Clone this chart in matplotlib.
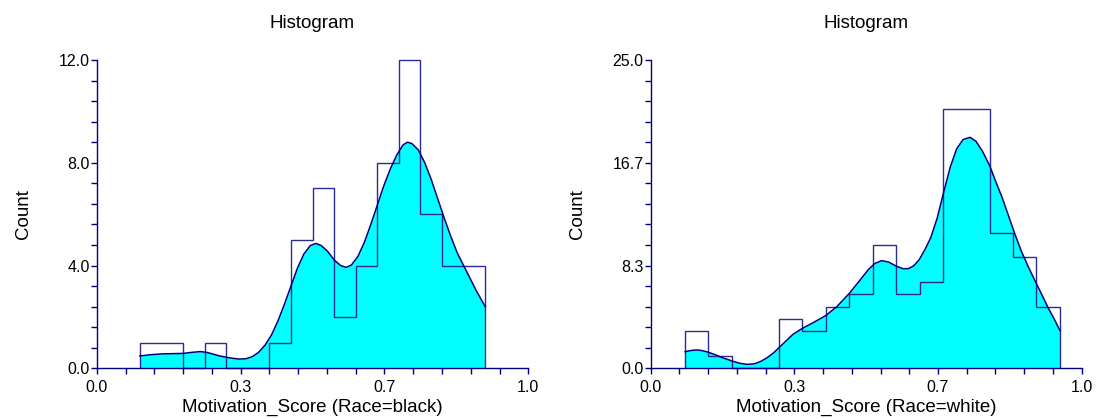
import numpy as np
import matplotlib
matplotlib.use("Agg")
import matplotlib.pyplot as plt

plt.rcParams['font.family'] = ['Liberation Sans', 'DejaVu Sans']

# left panel: Race=black
black_edges = [0.10, 0.15, 0.20, 0.25, 0.30, 0.35, 0.40, 0.45, 0.50,
               0.55, 0.60, 0.65, 0.70, 0.75, 0.80, 0.85, 0.90]
black_counts = [1, 1, 0, 1, 0, 0, 1, 5, 7, 2, 4, 8, 12, 6, 4, 4]
black_curve_x = [0.100, 0.125, 0.150, 0.175, 0.200, 0.220, 0.240, 0.255, 0.270,
                 0.285, 0.300, 0.315, 0.330, 0.345, 0.360, 0.375, 0.390, 0.405,
                 0.420, 0.435, 0.450, 0.465, 0.480, 0.495, 0.508, 0.520, 0.535,
                 0.550, 0.565, 0.578, 0.590, 0.605, 0.620, 0.635, 0.650, 0.665,
                 0.680, 0.695, 0.710, 0.720, 0.730, 0.745, 0.760, 0.775, 0.790,
                 0.805, 0.820, 0.835, 0.850, 0.865, 0.880, 0.900]
black_curve_y = [0.48, 0.53, 0.56, 0.57, 0.58, 0.62, 0.65, 0.62, 0.55,
                 0.48, 0.43, 0.39, 0.36, 0.37, 0.45, 0.62, 0.90, 1.30,
                 1.85, 2.50, 3.20, 3.90, 4.45, 4.78, 4.86, 4.78, 4.55,
                 4.22, 4.00, 3.93, 4.02, 4.35, 4.90, 5.60, 6.35, 7.10,
                 7.75, 8.30, 8.70, 8.80, 8.75, 8.50, 8.00, 7.35, 6.60,
                 5.85, 5.15, 4.50, 4.00, 3.50, 3.00, 2.40]

# right panel: Race=white
white_edges = [0.080, 0.134, 0.189, 0.243, 0.298, 0.352, 0.406, 0.461, 0.515,
               0.569, 0.624, 0.678, 0.732, 0.787, 0.841, 0.895, 0.950]
white_counts = [3, 1, 0, 0, 4, 3, 5, 6, 10, 6, 7, 21, 21, 11, 9, 5]
white_curve_x = [0.080, 0.095, 0.107, 0.120, 0.134, 0.150, 0.165, 0.189, 0.205,
                 0.223, 0.240, 0.255, 0.270, 0.285, 0.298, 0.315, 0.330, 0.352,
                 0.377, 0.406, 0.432, 0.461, 0.486, 0.505, 0.520, 0.536, 0.552,
                 0.569, 0.585, 0.598, 0.610, 0.623, 0.636, 0.650, 0.665, 0.680,
                 0.695, 0.710, 0.725, 0.741, 0.755, 0.770, 0.787, 0.800, 0.815,
                 0.830, 0.845, 0.860, 0.878, 0.896, 0.910, 0.923, 0.937, 0.950]
white_curve_y = [1.35, 1.45, 1.49, 1.43, 1.30, 1.10, 0.88, 0.59, 0.42,
                 0.32, 0.36, 0.55, 0.85, 1.25, 1.68, 2.25, 2.75, 3.24,
                 3.70, 4.27, 5.00, 6.08, 7.16, 8.00, 8.50, 8.73, 8.62,
                 8.30, 8.08, 8.08, 8.30, 8.80, 9.60, 10.60, 12.20, 14.30,
                 16.30, 17.80, 18.55, 18.73, 18.40, 17.60, 16.40, 15.20, 13.90,
                 12.40, 10.90, 9.50, 8.10, 6.80, 5.80, 4.86, 3.95, 3.05]

x_major = [0.0, 1/3, 2/3, 1.0]
x_labels = ["0.0", "0.3", "0.7", "1.0"]
black_ymax = 12.0
black_ylabels = ["0.0", "4.0", "8.0", "12.0"]
white_ymax = 25.0
white_ylabels = ["0.0", "8.3", "16.7", "25.0"]

navy = '#000080'
edge = '#2b2b96'
cyan = '#00FFFF'


def draw(ax, edges, counts, cx, cy, ymax, ylabels, xlabel):
    ax.fill_between(cx, cy, 0, color=cyan, lw=0, zorder=1)
    # histogram as a step outline
    ax.stairs(counts, edges, baseline=0, color=edge, linewidth=1.0,
              zorder=2, clip_on=False)
    ax.plot(cx, cy, color=navy, lw=1.1, zorder=3)
    ax.set_xlim(0, 1)
    ax.set_ylim(0, ymax)
    for s in ['top', 'right']:
        ax.spines[s].set_visible(False)
    for s in ['left', 'bottom']:
        ax.spines[s].set_color(navy)
        ax.spines[s].set_linewidth(1.0)
    ax.set_xticks(x_major)
    ax.set_xticklabels(x_labels)
    ax.set_xticks(np.linspace(0, 1, 16), minor=True)
    ax.set_yticks(np.linspace(0, ymax, 4))
    ax.set_yticklabels(ylabels)
    ax.set_yticks(np.linspace(0, ymax, 16), minor=True)
    ax.tick_params(which='both', direction='out', length=4.5, width=1.0,
                   color=navy, labelsize=11.5, pad=0.5)
    ax.tick_params(axis='x', which='both', pad=4)
    ax.set_title("Histogram", fontsize=13.5, pad=23)
    ax.set_ylabel("Count", fontsize=13.5)
    ax.yaxis.set_label_coords(-0.15, 0.5)
    ax.set_xlabel(xlabel, fontsize=13.5, labelpad=3)


fig = plt.figure(figsize=(10.98, 4.19), dpi=100)
ax1 = fig.add_axes([0.0881, 0.121, 0.3931, 0.7358])
ax2 = fig.add_axes([0.5926, 0.121, 0.3925, 0.7358])

draw(ax1, black_edges, black_counts, black_curve_x, black_curve_y,
     black_ymax, black_ylabels, "Motivation_Score (Race=black)")
draw(ax2, white_edges, white_counts, white_curve_x, white_curve_y,
     white_ymax, white_ylabels, "Motivation_Score (Race=white)")

fig.savefig("out.png", dpi=100)
